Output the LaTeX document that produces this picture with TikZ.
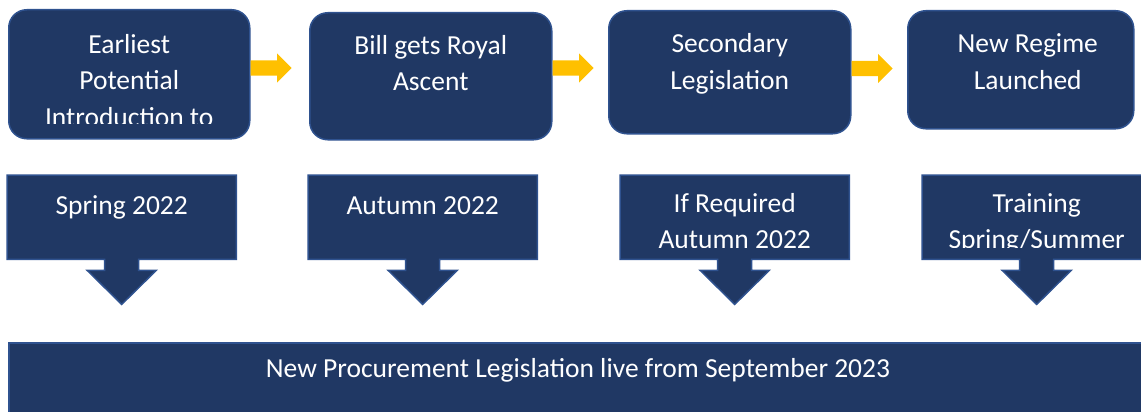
\documentclass[tikz,border=0pt]{standalone}
\usepackage{fontspec}
\setmainfont{Carlito}
\usetikzlibrary{shapes.arrows}

\definecolor{navy}{HTML}{203864}
\definecolor{edgeblue}{HTML}{2F528F}
\definecolor{gold}{HTML}{FFC000}

\tikzset{
	stagebox/.style={draw=edgeblue, fill=navy, line width=1.5pt, rounded corners=18pt, anchor=north west, inner sep=0pt},
	datebox/.style={anchor=north west, inner sep=0pt, minimum width=229pt, minimum height=84pt},
	datefill/.style={draw=edgeblue, fill=navy, line width=1.5pt, line join=miter},
	boxtext/.style={text=white, align=center, anchor=base, inner sep=0pt, font=\fontsize{27.5pt}{36pt}\selectfont},
	nextarrow/.style={single arrow, fill=gold, minimum height=41pt, single arrow head extend=7pt, inner xsep=0pt, inner ysep=7.5pt, anchor=west}
}

% box with an arrow hanging from its bottom edge
\newcommand\dropbox[1]{%
	\draw[datefill] (#1.north west) -- (#1.north east) -- (#1.south east)
		-- ([xshift=17pt]#1.south) -- ([xshift=17pt,yshift=-11pt]#1.south)
		-- ([xshift=34.5pt,yshift=-11pt]#1.south) -- ([yshift=-45pt]#1.south)
		-- ([xshift=-34.5pt,yshift=-11pt]#1.south) -- ([xshift=-17pt,yshift=-11pt]#1.south)
		-- ([xshift=-17pt]#1.south) -- (#1.south west) -- cycle;}

\begin{document}
\begin{tikzpicture}[x=1pt, y=-1pt]
	\useasboundingbox (0,0) rectangle (1141,412);
	\clip (0,0) rectangle (1141,412);

	% stages
	\node[stagebox, minimum width=241pt, minimum height=129pt] (b1) at (8,9) {};
	\node[stagebox, minimum width=242pt, minimum height=127pt] (b2) at (309,12) {};
	\node[stagebox, minimum width=242pt, minimum height=123pt] (b3) at (608,10) {};
	\node[stagebox, minimum width=226pt, minimum height=118pt] (b4) at (907,10) {};

	% base of a multi-line text is its last line
	\begin{scope}
		\clip (b1.north west) rectangle ([yshift=16pt]b1.south east);
		\node[boxtext, font=\fontsize{27.5pt}{36.5pt}\selectfont] at ([yshift=-117pt]b1.north) {Earliest\\Potential\\Introduction to};
	\end{scope}
	\node[boxtext] at ([yshift=-79pt]b2.north) {Bill gets Royal\\Ascent};
	\node[boxtext] at ([yshift=-79pt]b3.north) {Secondary\\Legislation};
	\node[boxtext] at ([xshift=7pt,yshift=-79pt]b4.north) {New Regime\\Launched};

	% arrows between stages
	\node[nextarrow] (a1) at (b1.east |- 0,68) {};
	\node[nextarrow] (a2) at (b2.east |- 0,68) {};
	\node[nextarrow] (a3) at (b3.east |- 0,68.5) {};

	% dates
	\node[datebox] (c1) at (7,175) {};
	\node[datebox] (c2) at (308,175) {};
	\node[datebox] (c3) at (620,175) {};
	\node[datebox] (c4) at (922,175) {};
	\dropbox{c1}
	\dropbox{c2}
	\dropbox{c3}
	\dropbox{c4}

	\node[boxtext] at ([yshift=-39pt]c1.north) {Spring 2022};
	\node[boxtext] at ([yshift=-39pt]c2.north) {Autumn 2022};
	\begin{scope}
		\clip (c3.north west) rectangle ([yshift=12pt]c3.south east);
		\node[boxtext] at ([yshift=-73pt]c3.north) {If Required\\Autumn 2022};
	\end{scope}
	\begin{scope}
		\clip (c4.north west) rectangle ([yshift=12pt]c4.south east);
		\node[boxtext] at ([yshift=-73pt]c4.north) {Training\\Spring/Summer};
	\end{scope}

	% go-live bar
	\node[stagebox, rounded corners=0pt, minimum width=1160pt, minimum height=90pt] (live) at (8,342) {};
	\node[boxtext] at (578,377) {New Procurement Legislation live from September 2023};
\end{tikzpicture}
\end{document}
